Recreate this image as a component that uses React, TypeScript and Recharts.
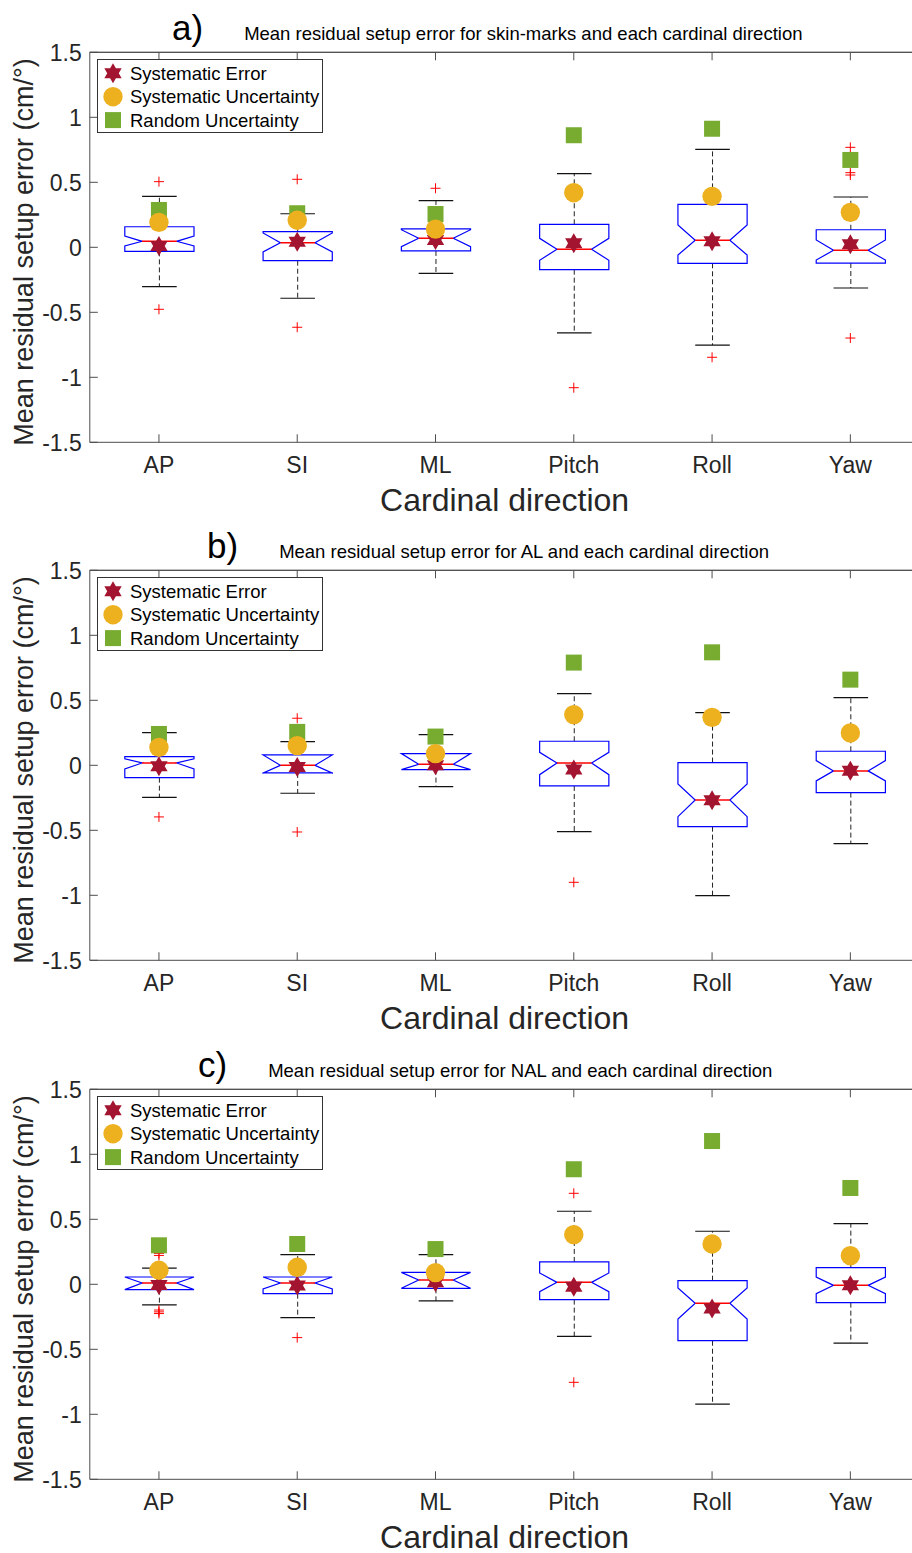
import React from 'react';
import { ComposedChart, Bar, Scatter, XAxis, YAxis, Legend, Label, ReferenceLine } from 'recharts';

// ---------- categories, ticks, texts ----------
const categories = ['AP', 'SI', 'ML', 'Pitch', 'Roll', 'Yaw'];
const yTicks = [-1.5, -1, -0.5, 0, 0.5, 1, 1.5];
const panelLetters = ['a)', 'b)', 'c)'];
const panelTitles = [
  'Mean residual setup error for skin-marks and each cardinal direction',
  'Mean residual setup error for AL and each cardinal direction',
  'Mean residual setup error for NAL and each cardinal direction',
];
const legendNames = ['Systematic Error', 'Systematic Uncertainty', 'Random Uncertainty'];
const yLabel = 'Mean residual setup error (cm/\u00B0)';
const xLabel = 'Cardinal direction';

// ---------- panel a) skin-marks ----------
const skinWhiskerLow = [-0.303, -0.392, -0.2, -0.659, -0.752, -0.313];
const skinQ1 = [-0.031, -0.103, -0.028, -0.172, -0.123, -0.121];
const skinMedian = [0.046, 0.035, 0.069, -0.015, 0.054, -0.023];
const skinQ3 = [0.158, 0.12, 0.141, 0.177, 0.33, 0.135];
const skinWhiskerHigh = [0.392, 0.258, 0.359, 0.566, 0.754, 0.387];
const skinNotchLow = [0.01, -0.035, 0.005, -0.1, -0.059, -0.098];
const skinNotchHigh = [0.087, 0.11, 0.135, 0.069, 0.171, 0.056];
const skinOutliers = [[0.505, -0.477], [0.523, -0.615], [0.454], [-1.08], [-0.846], [0.769, 0.574, 0.556, -0.698]];
const skinSysError = [0.01, 0.043, 0.056, 0.031, 0.046, 0.023];
const skinSysUnc = [0.192, 0.208, 0.14, 0.42, 0.392, 0.269];
const skinRandUnc = [0.287, 0.262, 0.256, 0.862, 0.912, 0.672];

// ---------- panel b) AL ----------
const alWhiskerLow = [-0.246, -0.215, -0.164, -0.51, -1.002, -0.602];
const alQ1 = [-0.095, -0.059, -0.033, -0.159, -0.472, -0.21];
const alMedian = [0.018, 0.0, 0.008, 0.018, -0.267, -0.043];
const alQ3 = [0.067, 0.08, 0.09, 0.185, 0.021, 0.108];
const alWhiskerHigh = [0.252, 0.182, 0.236, 0.551, 0.405, 0.521];
const alNotchLow = [-0.028, -0.06, -0.033, -0.072, -0.395, -0.12];
const alNotchHigh = [0.05, 0.08, 0.09, 0.1, -0.144, 0.036];
const alOutliers = [[-0.397], [0.362, -0.513], [], [-0.9], [], []];
const alSysError = [-0.008, -0.013, 0.0, -0.033, -0.269, -0.041];
const alSysUnc = [0.138, 0.151, 0.09, 0.39, 0.369, 0.249];
const alRandUnc = [0.241, 0.257, 0.221, 0.79, 0.869, 0.659];

// ---------- panel c) NAL ----------
const nalWhiskerLow = [-0.159, -0.257, -0.128, -0.4, -0.921, -0.452];
const nalQ1 = [-0.041, -0.072, -0.031, -0.118, -0.434, -0.141];
const nalMedian = [0.01, 0.01, 0.033, 0.015, -0.146, -0.008];
const nalQ3 = [0.056, 0.056, 0.092, 0.172, 0.028, 0.128];
const nalWhiskerHigh = [0.125, 0.228, 0.228, 0.562, 0.408, 0.466];
const nalNotchLow = [-0.041, -0.036, -0.031, -0.057, -0.267, -0.072];
const nalNotchHigh = [0.056, 0.056, 0.092, 0.087, -0.028, 0.056];
const nalOutliers = [[0.238, 0.222, -0.198, -0.212, -0.225], [-0.41], [], [0.7, -0.754], [], []];
const nalSysError = [-0.005, -0.01, 0.015, -0.018, -0.187, -0.008];
const nalSysUnc = [0.108, 0.131, 0.09, 0.382, 0.31, 0.22];
const nalRandUnc = [0.3, 0.31, 0.271, 0.885, 1.102, 0.741];

// ---------- styles ----------
const FONT = '"Liberation Sans", Arial, Helvetica, sans-serif';
const AXIS = '#4d4d4d';
const TEXT = '#262626';
const STAR = '#A2142F';
const CIRCLE = '#EDB120';
const SQUARE = '#77AC30';
const BOX = '#0000FF';
const MEDIAN = '#FF0000';
const OUT_KEYS = ['o1', 'o2', 'o3', 'o4', 'o5'];
const titleX = [172, 207, 198];
const panelTop = [0, 518.4, 1037];
const Y_MAX = 1.5;
const BOX_WIDTH = 69.2;

type PanelData = {
  lo: number[]; q1: number[]; med: number[]; q3: number[]; hi: number[];
  nLo: number[]; nHi: number[]; out: number[][]; se: number[]; su: number[]; ru: number[];
};

const panels: PanelData[] = [
  { lo: skinWhiskerLow, q1: skinQ1, med: skinMedian, q3: skinQ3, hi: skinWhiskerHigh, nLo: skinNotchLow, nHi: skinNotchHigh, out: skinOutliers, se: skinSysError, su: skinSysUnc, ru: skinRandUnc },
  { lo: alWhiskerLow, q1: alQ1, med: alMedian, q3: alQ3, hi: alWhiskerHigh, nLo: alNotchLow, nHi: alNotchHigh, out: alOutliers, se: alSysError, su: alSysUnc, ru: alRandUnc },
  { lo: nalWhiskerLow, q1: nalQ1, med: nalMedian, q3: nalQ3, hi: nalWhiskerHigh, nLo: nalNotchLow, nHi: nalNotchHigh, out: nalOutliers, se: nalSysError, su: nalSysUnc, ru: nalRandUnc },
];

const buildRows = (p: PanelData) =>
  categories.map((name, i) => {
    const row: any = {
      name,
      range: [p.lo[i], p.hi[i]],
      lo: p.lo[i], q1: p.q1[i], med: p.med[i], q3: p.q3[i], hi: p.hi[i],
      nLo: p.nLo[i], nHi: p.nHi[i],
      se: p.se[i], su: p.su[i], ru: p.ru[i],
      frame: Y_MAX,
    };
    OUT_KEYS.forEach((k, j) => {
      row[k] = p.out[i][j] === undefined ? null : p.out[i][j];
    });
    return row;
  });

// ---------- marker drawing ----------
const hexagram = (cx: number, cy: number, R: number) => {
  const pts: string[] = [];
  for (let i = 0; i < 12; i++) {
    const a = ((-90 + i * 30) * Math.PI) / 180;
    const r = i % 2 === 0 ? R : R / Math.sqrt(3);
    pts.push(`${cx + r * Math.cos(a)},${cy + r * Math.sin(a)}`);
  }
  return pts.join(' ');
};

const starIcon = (cx: number, cy: number) => <polygon points={hexagram(cx, cy, 10)} fill={STAR} />;
const circleIcon = (cx: number, cy: number) => <circle cx={cx} cy={cy} r={9.7} fill={CIRCLE} />;
const squareIcon = (cx: number, cy: number) => <rect x={cx - 8} y={cy - 8} width={16} height={16} fill={SQUARE} />;
const icons = [starIcon, circleIcon, squareIcon];

const ok = (v: any) => typeof v === 'number' && Number.isFinite(v);

const StarShape = (props: any) => (ok(props.cx) && ok(props.cy) ? starIcon(props.cx, props.cy) : <g />);
const CircleShape = (props: any) => (ok(props.cx) && ok(props.cy) ? circleIcon(props.cx, props.cy) : <g />);
const SquareShape = (props: any) => (ok(props.cx) && ok(props.cy) ? squareIcon(props.cx, props.cy) : <g />);

// top frame segment for one category band plus its inward tick
const TICK_LEN = 8;
const FrameShape = (props: any) => {
  const { cx, cy } = props;
  if (!ok(cx) || !ok(cy)) return <g />;
  const half = BOX_WIDTH; // a band is twice the box width
  return (
    <g>
      <line x1={cx - half} x2={cx + half} y1={cy} y2={cy} stroke={AXIS} strokeWidth={1} />
      <line x1={cx} x2={cx} y1={cy} y2={cy + TICK_LEN} stroke={AXIS} strokeWidth={1} />
    </g>
  );
};

const makePlus = (key: string) => (props: any) => {
  const { cx, cy, payload } = props;
  if (!payload || payload[key] == null || !ok(cx) || !ok(cy)) return <g />;
  return (
    <g>
      <line x1={cx - 5} x2={cx + 5} y1={cy} y2={cy} stroke="#FF0000" strokeWidth={1} />
      <line x1={cx} x2={cx} y1={cy - 5} y2={cy + 5} stroke="#FF0000" strokeWidth={1} />
    </g>
  );
};

// ---------- notched box ----------
const BoxShape = (props: any) => {
  const { x, y, width, height, payload } = props;
  if (!payload || !ok(x) || !ok(y) || !ok(width) || !ok(height)) return <g />;
  const top = Math.min(y, y + height);
  const h = Math.abs(height);
  const k = h / (payload.hi - payload.lo);
  const Y = (v: number) => top + (payload.hi - v) * k;
  const cx = x + width / 2;
  const L = x;
  const R = x + width;
  const nIn = width / 4;
  const cap = width / 4;
  const pts = [
    [L, Y(payload.q3)], [R, Y(payload.q3)], [R, Y(payload.nHi)], [R - nIn, Y(payload.med)],
    [R, Y(payload.nLo)], [R, Y(payload.q1)], [L, Y(payload.q1)], [L, Y(payload.nLo)],
    [L + nIn, Y(payload.med)], [L, Y(payload.nHi)],
  ]
    .map((p) => `${p[0]},${p[1]}`)
    .join(' ');
  return (
    <g>
      <line x1={cx} x2={cx} y1={Y(payload.q3)} y2={Y(payload.hi)} stroke="#222" strokeDasharray="5 3" strokeWidth={1} />
      <line x1={cx} x2={cx} y1={Y(payload.q1)} y2={Y(payload.lo)} stroke="#222" strokeDasharray="5 3" strokeWidth={1} />
      <line x1={cx - cap} x2={cx + cap} y1={Y(payload.hi)} y2={Y(payload.hi)} stroke="#111" strokeWidth={1.2} />
      <line x1={cx - cap} x2={cx + cap} y1={Y(payload.lo)} y2={Y(payload.lo)} stroke="#111" strokeWidth={1.2} />
      <polygon points={pts} fill="none" stroke={BOX} strokeWidth={1.2} />
      <line x1={L + nIn} x2={R - nIn} y1={Y(payload.med)} y2={Y(payload.med)} stroke={MEDIAN} strokeWidth={1.5} />
    </g>
  );
};

// ---------- ticks ----------
const BottomTick = (props: any) => {
  const { x, y, payload } = props;
  return (
    <g>
      <line x1={x} x2={x} y1={y} y2={y - TICK_LEN} stroke={AXIS} />
      <text x={x} y={y + 31} textAnchor="middle" fontSize={23} fill={TEXT} fontFamily={FONT}>
        {payload.value}
      </text>
    </g>
  );
};
const LeftTick = (props: any) => {
  const { x, y, payload } = props;
  return (
    <g>
      <line x1={x} x2={x + TICK_LEN} y1={y} y2={y} stroke={AXIS} />
      <text x={x - 8} y={y} dy="0.36em" textAnchor="end" fontSize={23} fill={TEXT} fontFamily={FONT}>
        {String(payload.value)}
      </text>
    </g>
  );
};

// ---------- legend ----------
const LegendBox = () => (
  <svg width={226} height={74} style={{ display: 'block' }}>
    <rect x={0.5} y={0.5} width={225} height={73} fill="#fff" stroke="#333" strokeWidth={1} />
    {legendNames.map((n, i) => {
      const cy = 14.3 + i * 23.4;
      return (
        <g key={n}>
          {icons[i](16, cy)}
          <text x={33} y={cy + 6.7} fontSize={18.5} fill="#000" fontFamily={FONT}>
            {n}
          </text>
        </g>
      );
    })}
  </svg>
);

// ---------- panel ----------
const Panel = ({ idx }: { idx: number }) => {
  const rows = buildRows(panels[idx]);
  return (
    <ComposedChart
      width={940}
      height={518}
      data={rows}
      margin={{ top: 52.3, right: 20.5, bottom: 0, left: 0 }}
      style={{ fontFamily: FONT }}
    >
      <XAxis
        dataKey="name"
        type="category"
        height={75.7}
        tickSize={0}
        tickMargin={0}
        interval={0}
        tickLine={false}
        axisLine={{ stroke: AXIS, strokeWidth: 1 }}
        tick={(p: any) => <BottomTick {...p} />}
      >
        <Label
          content={() => (
            <g>
              <text x={504.6} y={510.5} textAnchor="middle" fontSize={32} fill={TEXT} fontFamily={FONT}>
                {xLabel}
              </text>
              <text x={titleX[idx]} y={39.5} fill="#000" fontFamily={FONT}>
                <tspan fontSize={35}>{panelLetters[idx]}</tspan>
                <tspan dx={41} fontSize={18.5}>
                  {panelTitles[idx]}
                </tspan>
              </text>
            </g>
          )}
        />
      </XAxis>
      <YAxis
        type="number"
        domain={[-Y_MAX, Y_MAX]}
        ticks={yTicks}
        width={89.8}
        tickSize={0}
        tickMargin={0}
        interval={0}
        tickLine={false}
        axisLine={{ stroke: AXIS, strokeWidth: 1 }}
        tick={(p: any) => <LeftTick {...p} />}
      >
        <Label
          content={() => (
            <text
              x={24}
              y={252}
              textAnchor="middle"
              dominantBaseline="central"
              transform="rotate(-90 24 252)"
              fontSize={27}
              fill={TEXT}
              fontFamily={FONT}
            >
              {yLabel}
            </text>
          )}
        />
      </YAxis>
      <ReferenceLine y={Y_MAX} stroke={AXIS} strokeWidth={1} ifOverflow="extendDomain" />
      <Scatter dataKey="frame" shape={FrameShape} isAnimationActive={false} legendType="none" />
      <Bar dataKey="range" barSize={BOX_WIDTH} shape={BoxShape} isAnimationActive={false} legendType="none" />
      {OUT_KEYS.map((k) => (
        <Scatter key={k} dataKey={k} shape={makePlus(k)} isAnimationActive={false} legendType="none" />
      ))}
      <Scatter name={legendNames[0]} dataKey="se" fill={STAR} shape={StarShape} isAnimationActive={false} />
      <Scatter name={legendNames[2]} dataKey="ru" fill={SQUARE} shape={SquareShape} isAnimationActive={false} />
      <Scatter name={legendNames[1]} dataKey="su" fill={CIRCLE} shape={CircleShape} isAnimationActive={false} />
      <Legend
        layout="vertical"
        verticalAlign="middle"
        align="center"
        content={() => <LegendBox />}
        wrapperStyle={{ left: 97, top: 59, width: 226, height: 74 }}
      />
    </ComposedChart>
  );
};

export default function App() {
  return (
    <div
      style={{
        position: 'absolute',
        left: 0,
        top: 0,
        width: 912,
        height: 1553,
        overflow: 'hidden',
        background: '#fff',
      }}
    >
      {panelTop.map((t, i) => (
        <div key={i} style={{ position: 'absolute', left: 0, top: t, width: 940, height: 518 }}>
          <Panel idx={i} />
        </div>
      ))}
    </div>
  );
}
